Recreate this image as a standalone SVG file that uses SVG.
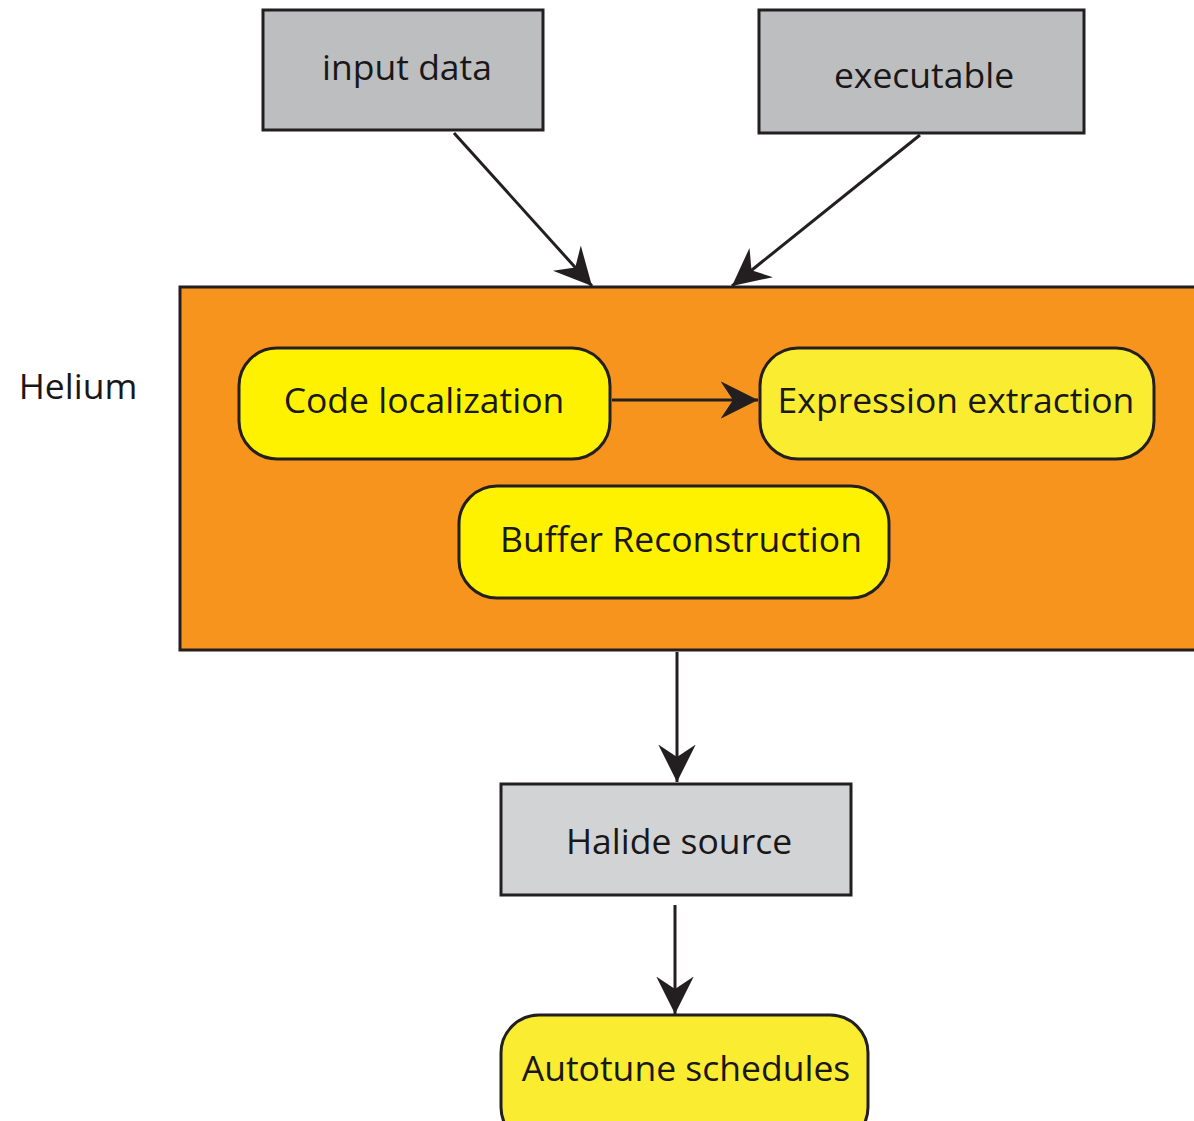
<svg xmlns="http://www.w3.org/2000/svg" width="1194" height="1121" viewBox="0 0 1194 1121">
  <style>
    .box { stroke: #231f20; stroke-width: 3; }
    .grey { fill: #bcbec0; }
    .lgrey { fill: #d1d3d4; }
    .yel { fill: #fff200; }
    .pyel { fill: #f9ec31; }
    .orange { fill: #f7941e; }
    text { font-family: "Open Sans", "Noto Sans", sans-serif; font-size: 35.5px; fill: #1a1718; text-anchor: middle; }
    .edge { stroke: #231f20; stroke-width: 3; fill: none; marker-end: url(#arrow); }
  </style>
  <defs>
    <marker id="arrow" markerUnits="userSpaceOnUse" markerWidth="40" markerHeight="40" viewBox="-30 -16 32 32" refX="0" refY="0" orient="auto">
      <path d="M0,0 L-30,-15 L-20,0 L-30,15 Z" fill="#231f20"/>
    </marker>
  </defs>

  <!-- Helium stage container -->
  <g id="helium">
    <rect class="box orange" x="180" y="287" width="1020" height="363"/>
    <text x="78" y="399">Helium</text>
  </g>

  <g id="input-data">
    <rect class="box grey" x="263" y="10" width="280" height="120"/>
    <text x="407" y="80">input data</text>
  </g>

  <g id="executable">
    <rect class="box grey" x="759" y="10" width="325" height="123"/>
    <text x="924" y="88">executable</text>
  </g>

  <g id="code-localization">
    <rect class="box yel" x="239" y="348" width="371" height="111" rx="38"/>
    <text x="424" y="413">Code localization</text>
  </g>

  <g id="expression-extraction">
    <rect class="box pyel" x="760" y="348" width="394" height="111" rx="38"/>
    <text x="956" y="413">Expression extraction</text>
  </g>

  <g id="buffer-reconstruction">
    <rect class="box yel" x="459" y="486" width="430" height="112" rx="38"/>
    <text x="681" y="552">Buffer Reconstruction</text>
  </g>

  <g id="halide-source">
    <rect class="box lgrey" x="501" y="784" width="350" height="111"/>
    <text x="679" y="854">Halide source</text>
  </g>

  <g id="autotune-schedules">
    <rect class="box pyel" x="501" y="1015" width="367" height="130" rx="38"/>
    <text x="686" y="1081">Autotune schedules</text>
  </g>

  <!-- connectors -->
  <g id="edges">
    <line class="edge" x1="454" y1="133" x2="592" y2="286"/>
    <line class="edge" x1="920" y1="135" x2="732" y2="286"/>
    <line class="edge" x1="612" y1="400" x2="758" y2="400"/>
    <line class="edge" x1="677" y1="652" x2="677" y2="782"/>
    <line class="edge" x1="675" y1="905" x2="675" y2="1014"/>
  </g>
</svg>
